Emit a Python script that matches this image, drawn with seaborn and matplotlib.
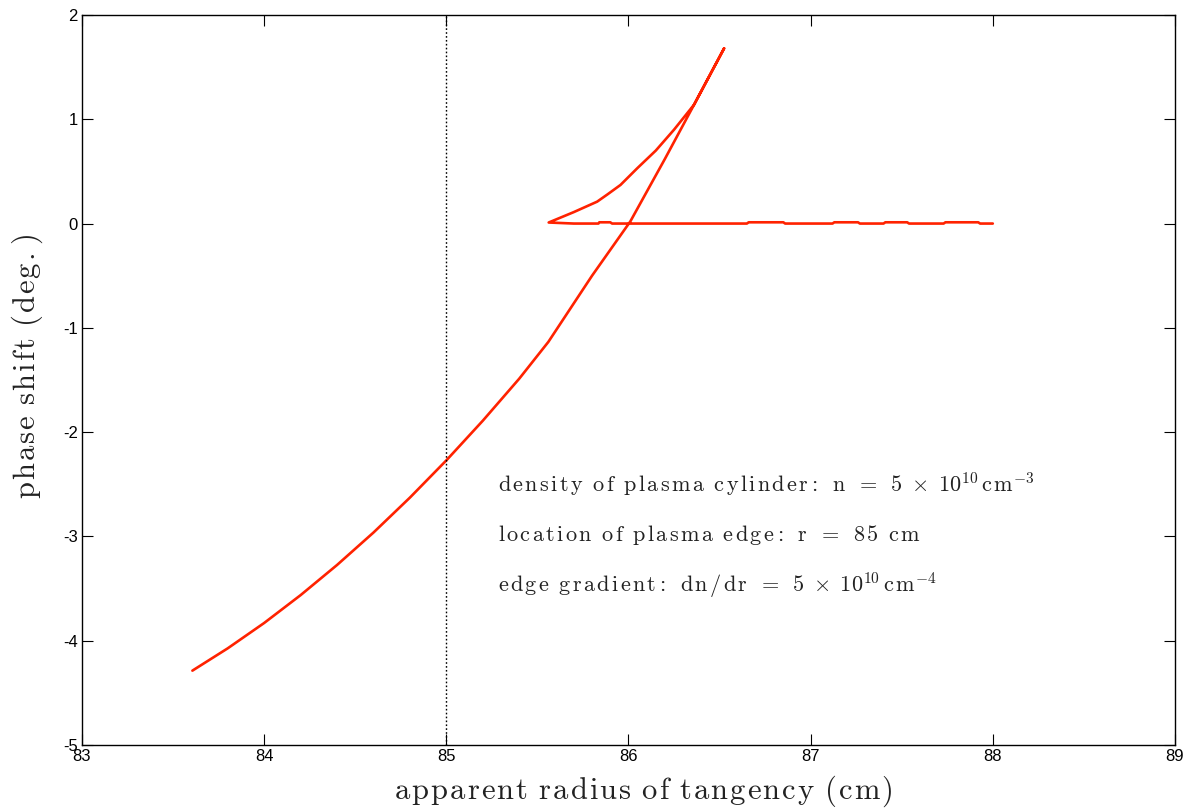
import matplotlib
matplotlib.use("Agg")
import matplotlib.pyplot as plt
import seaborn as sns
import pandas as pd

# ---- data ----
radius_cm = [83.606, 83.80, 84.0, 84.2, 84.4, 84.6, 84.8, 85.0, 85.2, 85.4, 85.56,
             85.80, 86.01, 86.20, 86.36, 86.525,
             86.36, 86.25, 86.15, 86.048, 85.956, 85.885, 85.828, 85.70, 85.562,
             85.70, 85.835, 85.84, 85.90, 85.91, 86.20, 86.50, 86.65, 86.66, 86.85,
             86.86, 87.12, 87.13, 87.26, 87.27, 87.40, 87.41, 87.53, 87.54, 87.73,
             87.74, 87.92, 87.93, 88.00]
phase_deg = [-4.287, -4.073, -3.830, -3.563, -3.274, -2.963, -2.628, -2.271, -1.891, -1.488, -1.135,
             -0.50, 0.02, 0.62, 1.14, 1.68,
             1.14, 0.90, 0.70, 0.53, 0.37, 0.28, 0.21, 0.11, 0.01,
             0.0, 0.0, 0.012, 0.012, 0.0, 0.0, 0.0, 0.0, 0.012, 0.012,
             0.0, 0.0, 0.012, 0.012, 0.0, 0.0, 0.012, 0.012, 0.0, 0.0,
             0.012, 0.012, 0.0, 0.0]
edge_location = 85.0
xticks = [83, 84, 85, 86, 87, 88, 89]
yticks = [-5, -4, -3, -2, -1, 0, 1, 2]
annot_words = [
    ["density", "of", "plasma", "cylinder{:}", "n", "=", r"5\;\times\;10^{10}"],
    ["location", "of", "plasma", "edge{:}", "r", "=", "85", "cm"],
    ["edge", "gradient{:}", "dn/dr", "=", r"5\;\times\;10^{10}"],
]
annot_tails = [r"\,c\hspace{0.12}m^{-3}", "", r"\,c\hspace{0.12}m^{-4}"]
annot_y = [-2.51, -2.99, -3.47]
xlabel_words = ["apparent", "radius", "of", "tangency", "(cm)"]
ylabel_words = ["phase", "shift", "(deg.)"]


def spread_word(w, sp):
    if w.startswith("\\") or "^" in w:
        return w
    toks, i = [], 0
    while i < len(w):
        if w.startswith("{:}", i):
            toks.append("{:}")
            i += 3
        else:
            toks.append(w[i])
            i += 1
    out = toks[0]
    for t in toks[1:]:
        out += t if t == "{:}" else (r"\hspace{%g}" % sp) + t
    return out


def spaced_math(words, sp, gap, tail=""):
    body = (r"\hspace{%g}" % gap).join(spread_word(w, sp) for w in words)
    return r"$\mathrm{" + body + tail + "}$"


df = pd.DataFrame({"r": radius_cm, "phase": phase_deg})

sns.set_style("white")
plt.rcParams["mathtext.fontset"] = "cm"
plt.rcParams["font.family"] = ["Liberation Sans", "DejaVu Sans"]

fig = plt.figure(figsize=(11.97, 8.09), dpi=100)
ax = fig.add_axes([0.0685, 0.0791, 0.9131, 0.9024])

sns.lineplot(data=df, x="r", y="phase", sort=False, estimator=None,
             color="#ff2200", linewidth=1.9, ax=ax)
ax.axvline(edge_location, color="black", linestyle=(0, (1.2, 1.6)), linewidth=1.0)

ax.set_xlim(83, 89)
ax.set_ylim(-5, 2)
ax.set_xticks(xticks)
ax.set_yticks(yticks)
ax.set_xticklabels([str(t) for t in xticks], fontsize=12)
ax.set_yticklabels([str(t) for t in yticks], fontsize=12)
ax.tick_params(direction="in", length=8, width=0.8, top=True, right=True,
               bottom=True, left=True, pad=3, colors="black")
for s in ax.spines.values():
    s.set_visible(True)
    s.set_color("black")
    s.set_linewidth(1.0)

ax.set_xlabel(spaced_math(xlabel_words, 0.08, 0.4), fontsize=22, color="#222222")
ax.xaxis.set_label_coords(0.5135, -0.039, transform=ax.transAxes)
ax.set_ylabel(spaced_math(ylabel_words, 0.08, 0.4), fontsize=22, color="#222222")
ax.yaxis.set_label_coords(-0.034, 0.518, transform=ax.transAxes)

for words, tail, yv in zip(annot_words, annot_tails, annot_y):
    ax.text(85.286, yv, spaced_math(words, 0.12, 0.55, tail), fontsize=16,
            va="center", ha="left", color="#222222")

fig.savefig("out.png", dpi=100)
